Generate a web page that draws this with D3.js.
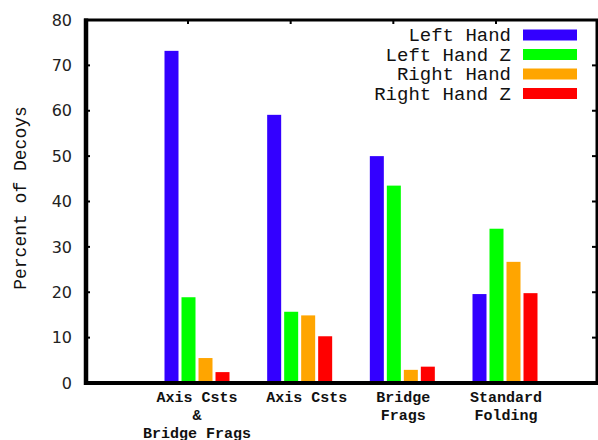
<!DOCTYPE html>
<html><head><meta charset="utf-8">
<script src="https://cdn.jsdelivr.net/npm/d3@7"></script>
<style>body{margin:0;background:#fff}</style>
</head><body>
<script>
const categories = [["Axis Csts","&","Bridge Frags"],["Axis Csts"],["Bridge","Frags"],["Standard","Folding"]];
const seriesNames = ["Left Hand","Left Hand Z","Right Hand","Right Hand Z"];
const seriesColors = ["#3300ff","#00ff00","#ffa500","#ff0000"];
const leftHand   = [73.2, 59.1, 50.0, 19.6];
const leftHandZ  = [18.9, 15.7, 43.5, 34.0];
const rightHand  = [5.5, 14.9, 2.9, 26.7];
const rightHandZ = [2.4, 10.3, 3.6, 19.8];
const seriesValues = [leftHand, leftHandZ, rightHand, rightHandZ];
const yTicks = [0,10,20,30,40,50,60,70,80];

const W = 598, H = 440;
const svg = d3.select("body").append("svg").attr("width", W).attr("height", H);
const L = 86, R = 597, T = 20, B = 383;

const y = d3.scaleLinear().domain([0, 80]).range([B, T]);
const idx = categories.map((d,i)=>i);
const x = d3.scalePoint().domain(idx).range([197, 505]);
const xs = d3.scaleBand().domain(seriesNames).range([-32.5, 32.5]).paddingInner(3/17).paddingOuter(0);

// bars
seriesNames.forEach((s, si) => {
  svg.append("g").selectAll("rect").data(seriesValues[si]).join("rect")
    .attr("x", (d,i) => x(i) + xs(s))
    .attr("width", xs.bandwidth())
    .attr("y", d => y(d))
    .attr("height", d => B - y(d))
    .attr("fill", seriesColors[si]);
});

// y axis labels
const yAxis = d3.axisLeft(y).tickValues(yTicks).tickSize(0).tickPadding(14);
const ga = svg.append("g").attr("transform", `translate(${L},0)`).call(yAxis);
ga.select(".domain").remove();
ga.selectAll("text").attr("font-family","DejaVu Sans").attr("font-size",16).attr("fill","#222");

// inner ticks left & right
svg.append("g").selectAll("line").data(yTicks.slice(1,-1)).join("line")
  .attr("x1", L).attr("x2", L+4).attr("y1", d=>y(d)).attr("y2", d=>y(d))
  .attr("stroke","#000").attr("stroke-width",2);
svg.append("g").selectAll("line").data(yTicks.slice(1,-1)).join("line")
  .attr("x1", R-5).attr("x2", R).attr("y1", d=>y(d)).attr("y2", d=>y(d))
  .attr("stroke","#000").attr("stroke-width",2);
// top ticks
svg.append("g").selectAll("line").data(idx).join("line")
  .attr("x1", d=>x(d)-9).attr("x2", d=>x(d)-9).attr("y1", T).attr("y2", T+4)
  .attr("stroke","#000").attr("stroke-width",2);

// frame
svg.append("line").attr("x1",L-2).attr("x2",R+2).attr("y1",T).attr("y2",T).attr("stroke","#000").attr("stroke-width",3);
svg.append("line").attr("x1",L-2).attr("x2",R+2).attr("y1",B).attr("y2",B).attr("stroke","#000").attr("stroke-width",4);
svg.append("line").attr("x1",L).attr("x2",L).attr("y1",T-1.5).attr("y2",B+2).attr("stroke","#000").attr("stroke-width",4.5);
svg.append("line").attr("x1",R).attr("x2",R).attr("y1",T).attr("y2",B).attr("stroke","#000").attr("stroke-width",3);

// x labels
const xl = svg.append("g").selectAll("text").data(idx).join("text")
  .attr("x", d=>x(d) + (d===0?0:5))
  .attr("y", 402)
  .attr("text-anchor","middle")
  .attr("font-family","Liberation Mono").attr("font-weight","bold").attr("font-size",15).attr("fill","#111");
xl.each(function(d){
  const t = d3.select(this);
  categories[d].forEach((line, li) => {
    t.append("tspan").attr("x", x(d) + (d===0?0:(d===1?7:1))).attr("dy", li===0?0:18).text(line);
  });
});

// y label
svg.append("text").attr("transform","translate(26,198) rotate(-90)")
  .attr("text-anchor","middle").attr("font-family","Liberation Mono").attr("font-size",18).attr("fill","#111")
  .text("Percent of Decoys");

// legend
const lg = svg.append("g");
seriesNames.forEach((s, si) => {
  const cy = 35 + si*19.5;
  lg.append("text").attr("x", 511).attr("y", cy+6).attr("text-anchor","end")
    .attr("font-family","Liberation Mono").attr("font-size",19).attr("fill","#111").text(s);
  lg.append("rect").attr("x", 523).attr("y", cy-5.5).attr("width", 54).attr("height", 11).attr("fill", seriesColors[si]);
});
</script>
</body></html>
